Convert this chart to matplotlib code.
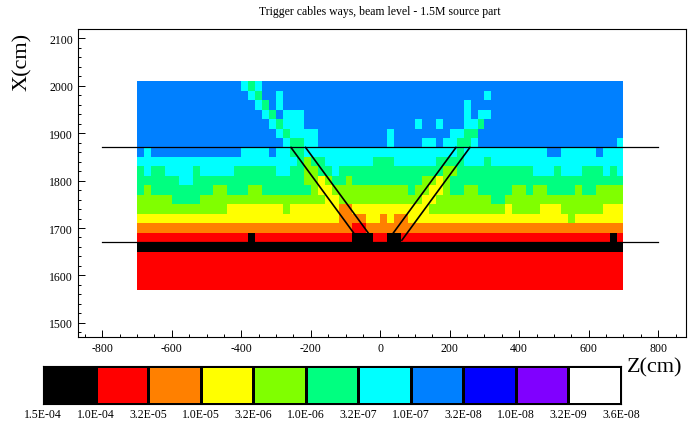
import matplotlib
matplotlib.use("Agg")
import matplotlib.pyplot as plt
import numpy as np
from matplotlib.colors import ListedColormap, BoundaryNorm
from matplotlib.ticker import MultipleLocator

plt.rcParams["axes.unicode_minus"] = False

# level colours, from highest dose (black) to lowest (white)
level_colors = ["#000000", "#ff0000", "#ff8000", "#ffff00", "#80ff00", "#00ff80",
                "#00ffff", "#0080ff", "#0000ff", "#8000ff", "#ffffff"]
level_labels = ["1.5E-04", "1.0E-04", "3.2E-05", "1.0E-05", "3.2E-06", "1.0E-06",
                "3.2E-07", "1.0E-07", "3.2E-08", "1.0E-08", "3.2E-09", "3.6E-08"]

# cell level codes (index into level_colors), top row (X=1990-2010) first,
# 70 cells of 20 cm from Z=-700 to Z=700
rows = [
    "7777777777" "7777765677" "7777777777" "7777777777" "7777777777" "7777777777" "7777777777",
    "7777777777" "7777776577" "6777777777" "7777777777" "7777777777" "6777777777" "7777777777",
    "7777777777" "7777777657" "6777777777" "7777777777" "7777777677" "7777777777" "7777777777",
    "7777777777" "7777777765" "7666777777" "7777777777" "7777777676" "6777777777" "7777777777",
    "7777777777" "7777777776" "5666777777" "7777777777" "6776777665" "7777777777" "7777777777",
    "7777777777" "7777777777" "6566667777" "7777776777" "7777766557" "7777777777" "7777777777",
    "7777777777" "7777777777" "7655667777" "7777776777" "7667665567" "7777777777" "7777777776",
    "7677777777" "7777766667" "6655666666" "6666666666" "6666665666" "6666666667" "7666667666",
    "6666666666" "6666666666" "6665455666" "6666555666" "6665555666" "5666666666" "6666666666",
    "5655666656" "6666555555" "6655445565" "5555555555" "5555445555" "5555555666" "5666555656",
    "5555556655" "5555555555" "5555443455" "4555555555" "5443455555" "5555555555" "5555555555",
    "5455555555" "5445554455" "5555543344" "4444444445" "4433455445" "5555445445" "5554554444",
    "4444455554" "4444444444" "4444444334" "4444444444" "4334444444" "4554444444" "4444444444",
    "4444444444" "4443333333" "3433333332" "2333333333" "3344444444" "4443444433" "3444444333",
    "3333333333" "3333333333" "3333333332" "2223323223" "3333333333" "3333333333" "3343333333",
    "2222222222" "2222222222" "2222222222" "2112222222" "2222222222" "2222222222" "2222222222",
    "1111111111" "1111110111" "1111111111" "1000110011" "1111111111" "1111111111" "1111111101",
    "0000000000" "0000000000" "0000000000" "0000000000" "0000000000" "0000000000" "0000000000",
    "1111111111" "1111111111" "1111111111" "1111111111" "1111111111" "1111111111" "1111111111",
    "1111111111" "1111111111" "1111111111" "1111111111" "1111111111" "1111111111" "1111111111",
    "1111111111" "1111111111" "1111111111" "1111111111" "1111111111" "1111111111" "1111111111",
    "1111111111" "1111111111" "1111111111" "1111111111" "1111111111" "1111111111" "1111111111",
]
z_edges = np.arange(-700, 701, 20)
x_edges = np.arange(1570, 2011, 20)

# cable way outline: horizontal limits and two diagonal pairs
h_lines = [1870, 1670]
h_span = [-800, 800]
diag_z0 = [-257, -215, 38, 62]
diag_x0 = [1870, 1870, 1690, 1674]
diag_z1 = [-77, -35, 218, 258]
diag_x1 = [1690, 1690, 1870, 1870]

serif = "Liberation Serif"
W, H = 688, 427
fig = plt.figure(figsize=(W / 100, H / 100), dpi=100)
ax = fig.add_axes([78 / W, 1 - 338 / H, 608 / W, 308 / H])

cmap = ListedColormap(level_colors)
norm = BoundaryNorm(np.arange(-0.5, len(level_colors) + 0.5), cmap.N)
grid = np.array([[int(c) for c in r] for r in rows[::-1]])
ax.pcolormesh(z_edges, x_edges, grid, cmap=cmap, norm=norm)

for y in h_lines:
    ax.plot(h_span, [y, y], color="black", lw=0.9)
for za, xa, zb, xb in zip(diag_z0, diag_x0, diag_z1, diag_x1):
    ax.plot([za, zb], [xa, xb], color="black", lw=1.2)

ax.set_xlim(-870, 880)
ax.set_ylim(1470, 2120)
ax.xaxis.set_major_locator(MultipleLocator(200))
ax.xaxis.set_minor_locator(MultipleLocator(50))
ax.yaxis.set_major_locator(MultipleLocator(100))
ax.yaxis.set_minor_locator(MultipleLocator(20))
ax.tick_params(which="both", direction="in", top=False, right=False,
               labelsize=8.5, width=0.7)
ax.tick_params(which="major", length=5)
ax.tick_params(which="minor", length=2.5)
for lab in ax.get_xticklabels() + ax.get_yticklabels():
    lab.set_family(serif)
for s in ax.spines.values():
    s.set_linewidth(0.8)

fig.text(380 / W, 1 - 12 / H, "Trigger cables ways, beam level - 1.5M source part",
         ha="center", va="center", fontsize=8.5, family=serif)
fig.text(22 / W, 1 - 62 / H, "X(cm)", rotation=90, ha="center", va="center",
         fontsize=16, family=serif)
fig.text(655 / W, 1 - 368 / H, "Z(cm)", ha="center", va="center",
         fontsize=16, family=serif)

# colour scale below the plot
cax = fig.add_axes([43 / W, 1 - 405 / H, 578 / W, 38 / H])
n = len(level_colors)
cax.pcolormesh(np.arange(n + 1), [0, 1], np.arange(n)[None, :], cmap=cmap,
               norm=norm, edgecolors="black", linewidth=0.8)
cax.set_xlim(0, n)
cax.set_ylim(0, 1)
cax.set_xticks(np.arange(n + 1))
cax.set_xticklabels(level_labels, family=serif, fontsize=8.5)
cax.set_yticks([])
cax.tick_params(axis="x", length=0, pad=3)
for s in cax.spines.values():
    s.set_linewidth(0.8)

fig.savefig("out.png", dpi=100)
